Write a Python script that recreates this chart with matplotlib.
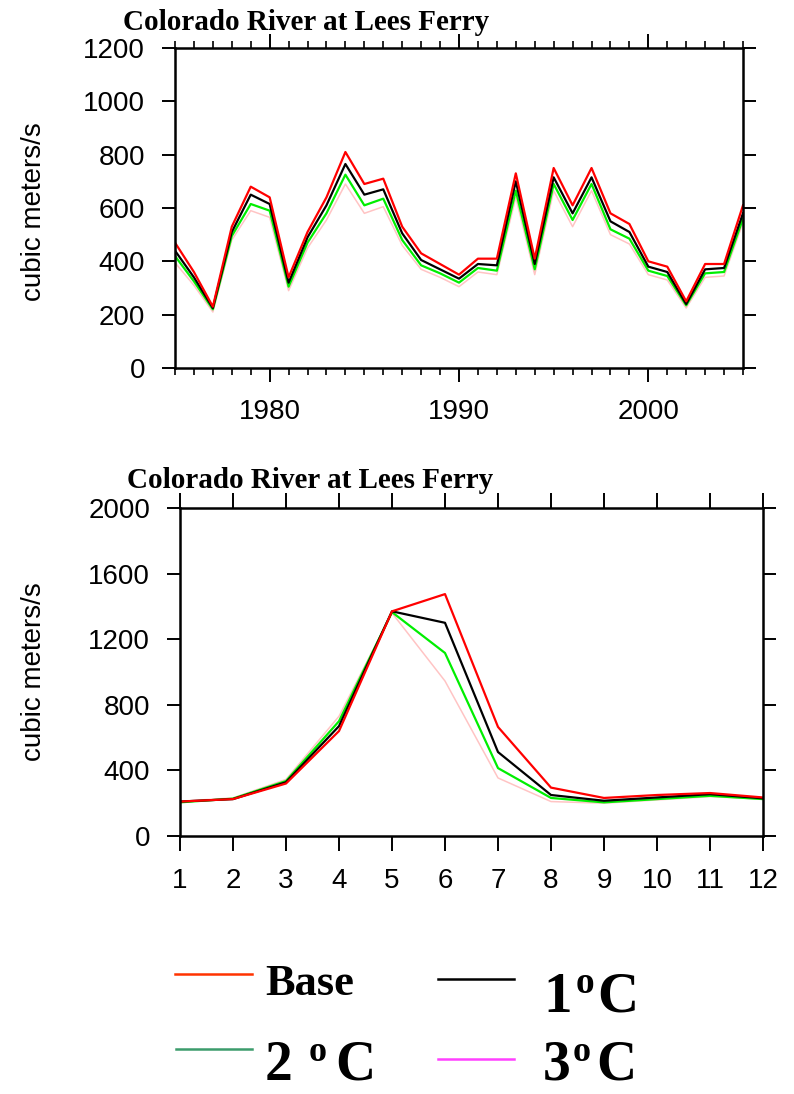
import numpy as np
import matplotlib.pyplot as plt
from matplotlib.ticker import MultipleLocator
from matplotlib.lines import Line2D

# annual flow, Colorado River at Lees Ferry
years = np.arange(1975, 2006)
base_yr = [470, 360, 230, 530, 680, 640, 340, 510, 640, 810, 690, 710, 530, 430, 390, 350,
           410, 410, 730, 410, 750, 610, 750, 580, 540, 400, 380, 250, 390, 390, 610]
c1_yr = [440, 340, 225, 510, 650, 615, 320, 490, 610, 765, 650, 670, 505, 405, 370, 335,
         390, 385, 700, 390, 715, 580, 715, 550, 510, 380, 360, 240, 370, 375, 580]
c2_yr = [420, 325, 220, 495, 615, 590, 305, 470, 580, 725, 610, 635, 480, 385, 355, 320,
         375, 365, 665, 370, 690, 555, 690, 520, 485, 365, 345, 235, 355, 360, 560]
c3_yr = [395, 310, 210, 480, 590, 565, 290, 450, 555, 690, 580, 605, 460, 370, 340, 305,
         360, 350, 640, 350, 665, 530, 665, 500, 465, 350, 330, 225, 340, 345, 545]

# mean monthly flow
months = np.arange(1, 13)
base_mo = [210, 225, 320, 640, 1370, 1475, 665, 295, 232, 250, 262, 235]
c1_mo = [210, 225, 328, 670, 1370, 1300, 512, 250, 215, 235, 255, 230]
c2_mo = [205, 228, 335, 700, 1365, 1116, 414, 232, 205, 225, 245, 225]
c3_mo = [212, 232, 345, 730, 1360, 945, 354, 210, 200, 220, 240, 225]

colors = ['#ff0000', '#000000', '#00ee00', '#ffc4c4']
widths = [1.6, 1.6, 1.6, 1.1]

W, H = 794, 1094
fig = plt.figure(figsize=(W / 100, H / 100), dpi=100)
plt.rcParams['font.family'] = ['Liberation Sans', 'DejaVu Sans']


def px_ax(l, t, r, b):
    return fig.add_axes([l / W, 1 - b / H, (r - l) / W, (b - t) / H])


def style(ax):
    for s in ax.spines.values():
        s.set_linewidth(1.8)
    ax.tick_params(which='major', direction='out', top=True, right=True,
                   labeltop=False, labelright=False, length=9.5, width=1.4,
                   labelsize=20, pad=12)
    ax.tick_params(which='minor', direction='out', top=True, right=True,
                   length=5, width=1.2)


ax1 = px_ax(175, 48, 743, 368)
for ys, c, w in zip([c3_yr, c2_yr, c1_yr, base_yr], colors[::-1], widths[::-1]):
    ax1.plot(years, ys, color=c, lw=w)
ax1.set_xlim(1975, 2005)
ax1.set_ylim(0, 1200)
ax1.set_yticks(np.arange(0, 1201, 200))
ax1.set_xticks([1980, 1990, 2000])
ax1.xaxis.set_minor_locator(MultipleLocator(1))
style(ax1)
ax1.tick_params(axis='x', which='major', length=10)
ax1.set_ylabel('cubic meters/s', fontsize=20)
ax1.yaxis.set_label_coords((47 - 175) / 568, 0.49)

ax2 = px_ax(180, 508, 763, 836)
for ys, c, w in zip([c3_mo, c2_mo, c1_mo, base_mo], colors[::-1], widths[::-1]):
    ax2.plot(months, ys, color=c, lw=w)
ax2.set_xlim(1, 12)
ax2.set_ylim(0, 2000)
ax2.set_yticks(np.arange(0, 2001, 400))
ax2.set_xticks(months)
style(ax2)
ax2.tick_params(axis='x', which='major', length=11)
ax2.set_ylabel('cubic meters/s', fontsize=20)
ax2.yaxis.set_label_coords((47 - 180) / 583, 0.5)

serif = ['Liberation Serif', 'DejaVu Serif']
fig.text(123 / W, 1 - 30 / H, 'Colorado River at Lees Ferry', family=serif,
         weight='bold', fontsize=21, ha='left', va='baseline')
fig.text(127 / W, 1 - 488 / H, 'Colorado River at Lees Ferry', family=serif,
         weight='bold', fontsize=21, ha='left', va='baseline')

# legend
leg = [('#ff3300', 175, 252, 974), ('#000000', 438, 514, 979),
       ('#3c9c6c', 176, 252, 1049), ('#ff40ff', 438, 514, 1059)]
for c, x0, x1, y in leg:
    fig.add_artist(Line2D([x0 / W, x1 / W], [1 - y / H, 1 - y / H], color=c, lw=1.8))


def ftxt(x, y, s, size):
    fig.text(x / W, 1 - y / H, s, family=serif, weight='bold', fontsize=size,
             ha='left', va='baseline')


ftxt(265, 995, 'Base', 32)
ftxt(543, 1012, '1', 41)
ftxt(576, 993, 'o', 27)
ftxt(597, 1012, 'C', 41)
ftxt(265, 1080, '2', 40)
ftxt(309, 1061, 'o', 26)
ftxt(335, 1080, 'C', 40)
ftxt(543, 1080, '3', 40)
ftxt(573, 1061, 'o', 26)
ftxt(596, 1080, 'C', 40)

fig.savefig('out.png', dpi=100)
